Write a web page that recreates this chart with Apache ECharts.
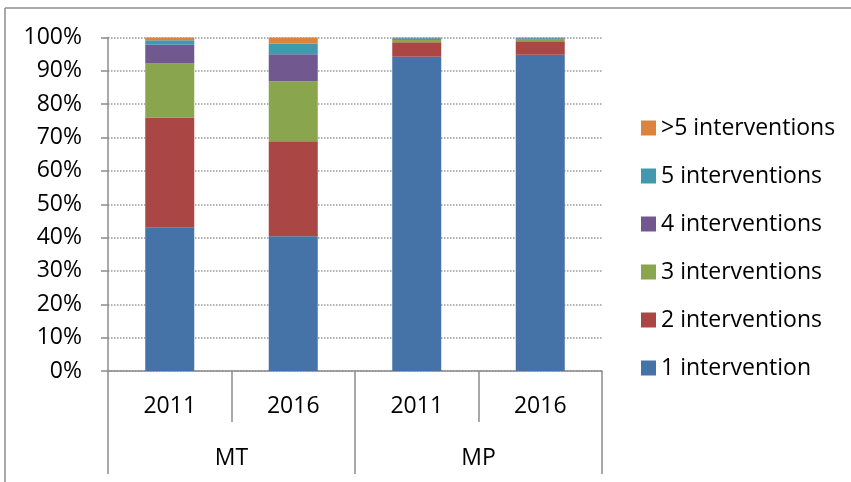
<!DOCTYPE html>
<html>
<head>
<meta charset="utf-8">
<script src="https://cdn.jsdelivr.net/npm/echarts@6/dist/echarts.min.js"></script>
<style>html,body{margin:0;padding:0;background:#fff;}#c{width:851px;height:482px;}</style>
</head>
<body>
<div id="c"></div>
<script>
var years = ['2011', '2016', '2011', '2016'];
var groups = ['MT', 'MP'];
var seriesNames = ['1 intervention', '2 interventions', '3 interventions', '4 interventions', '5 interventions', '>5 interventions'];
var s1 = [43.1, 40.4, 94.2, 94.8];
var s2 = [32.9, 28.5, 4.4, 4.1];
var s3 = [16.2, 18.0, 0.7, 0.5];
var s4 = [5.6, 8.1, 0.4, 0.3];
var s5 = [1.4, 3.2, 0.2, 0.2];
var s6 = [0.8, 1.8, 0.1, 0.1];
var colors = ['#4572A7', '#AA4643', '#89A54E', '#71588F', '#4198AF', '#DB843D'];
var yTicks = [0, 10, 20, 30, 40, 50, 60, 70, 80, 90, 100];

var allData = [s1, s2, s3, s4, s5, s6];
var font = 'Open Sans';
var chart = echarts.init(document.getElementById('c'));
var series = seriesNames.map(function (n, i) {
  return {
    name: n, type: 'bar', stack: 'total', xAxisIndex: 0,
    data: allData[i], barWidth: 49,
    itemStyle: { color: colors[i] }
  };
});
chart.setOption({
  animation: false,
  color: colors,
  grid: { left: 108, top: 37.5, width: 494, height: 333.5 },
  legend: {
    orient: 'vertical', left: 636, top: 111,
    data: seriesNames.slice().reverse(),
    icon: 'rect', itemWidth: 15, itemHeight: 15, itemGap: 24,
    textStyle: { fontFamily: font, fontSize: 23, color: '#000', lineHeight: 24, padding: [0, 0, 0, 0] },
    selectedMode: false
  },
  xAxis: [{
    type: 'category', data: years, position: 'bottom',
    axisLine: { lineStyle: { color: '#8c8c8c', width: 1.5 } },
    axisTick: { show: true, length: 51, lineStyle: { color: '#8c8c8c', width: 1.5 } },
    axisLabel: { fontFamily: font, fontSize: 23, color: '#000', margin: 24 }
  }, {
    type: 'category', data: groups, position: 'bottom',
    axisLine: { show: false },
    axisTick: { show: true, length: 103, lineStyle: { color: '#8c8c8c', width: 1.5 } },
    axisLabel: { fontFamily: font, fontSize: 23, color: '#000', margin: 76 }
  }],
  yAxis: {
    type: 'value', min: yTicks[0], max: yTicks[yTicks.length - 1], interval: 10,
    axisLine: { show: true, lineStyle: { color: '#8c8c8c', width: 1.5 } },
    axisTick: { show: true, length: 7, lineStyle: { color: '#8c8c8c', width: 1.5 } },
    axisLabel: { fontFamily: font, fontSize: 23, color: '#000', margin: 26, formatter: '{value}%' },
    splitLine: { show: true, lineStyle: { type: 'dotted', color: '#9a9a9a', width: 1.5 } }
  },
  graphic: [
    { type: 'line', shape: { x1: 5, y1: 8, x2: 851, y2: 8 }, style: { stroke: '#8c8c8c', lineWidth: 1.5 } },
    { type: 'line', shape: { x1: 5, y1: 8, x2: 5, y2: 482 }, style: { stroke: '#8c8c8c', lineWidth: 1.5 } }
  ],
  series: series
});
</script>
</body>
</html>
